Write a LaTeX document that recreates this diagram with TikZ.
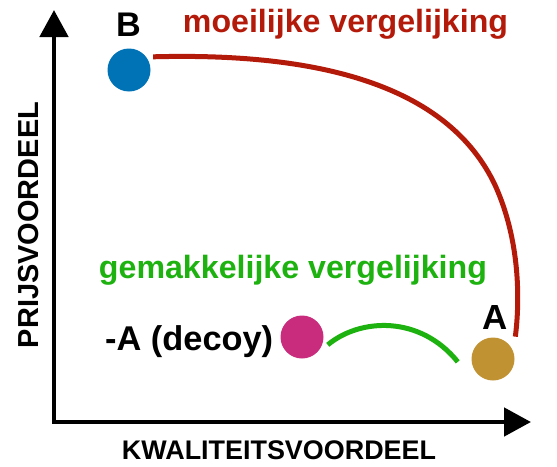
\documentclass[tikz,border=0pt]{standalone}
\usepackage{fontspec}
\usepackage{graphicx}
\setmainfont{Liberation Sans}
\usetikzlibrary{arrows.meta}
\definecolor{cblue}{RGB}{0,114,182}
\definecolor{cpink}{RGB}{201,44,124}
\definecolor{cgold}{RGB}{193,146,50}
\definecolor{cred}{RGB}{180,26,10}
\definecolor{cgreen}{RGB}{30,178,16}
\tikzset{
  dot/.style={circle, minimum size=43pt, inner sep=0pt, draw=none},
  axisline/.style={line width=4.8pt, line join=miter,
    {Triangle[length=27pt,width=28pt]}-{Triangle[length=27pt,width=28pt]}},
  lbl/.style={inner sep=0pt, font=\bfseries},
  curve/.style={line width=5pt},
}
\begin{document}
\begin{tikzpicture}[x=1pt,y=-1pt]
\useasboundingbox (0,0) rectangle (557,466);
% axes
\coordinate (ytip) at (54,10);
\coordinate (xtip) at (531,422);
\draw[axisline] (ytip) |- (xtip);
\node[lbl, anchor=base] (xl) at (279,459.5) {\resizebox{314pt}{!}{KWALITEITSVOORDEEL}};
\node[lbl, anchor=base, rotate=90] (yl) at (38,225) {\resizebox{246pt}{!}{PRIJSVOORDEEL}};
% points
\node[dot, fill=cblue] (B) at (129,70) {};
\node[dot, fill=cpink] (D) at (302,337) {};
\node[dot, fill=cgold] (A) at (493,359) {};
\node[lbl] (Bl) at (128.5,25) {\resizebox{!}{23.5pt}{B}};
\node[lbl] (Al) at (495,317.5) {\resizebox{!}{24pt}{A}};
\node[lbl, anchor=base west] (Dl) at (105,350) {\resizebox{168pt}{!}{-A (decoy)}};
% captions
\node[lbl, text=cred, anchor=base] (hard) at (345.5,32) {\resizebox{325pt}{!}{moeilijke vergelijking}};
\node[lbl, text=cgreen, anchor=base] (easy) at (293,278) {\resizebox{388pt}{!}{gemakkelijke vergelijking}};
% curves
\draw[curve, cred] ([xshift=5pt,yshift=3pt]B.28) .. controls (330,52) and (450,90) .. (495,185)
  .. controls (520,240) and (520,300) .. ([xshift=7pt,yshift=7pt]A.45);
\draw[curve, cgreen] ([xshift=5pt,yshift=-1.5pt]D.-17) .. controls (360,318) and (420,315) .. ([xshift=-13.6pt,yshift=-1pt]A.185);
\end{tikzpicture}
\end{document}
